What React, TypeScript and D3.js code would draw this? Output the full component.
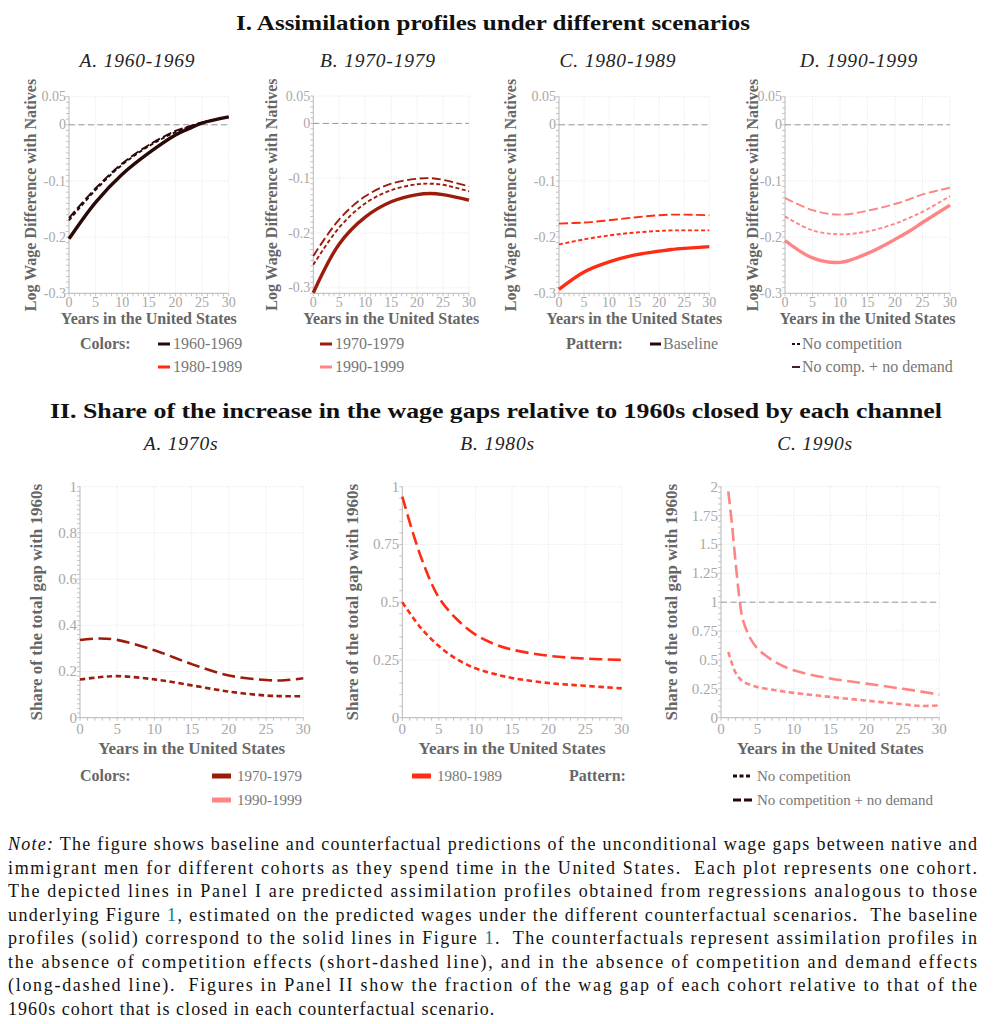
import { useEffect, useRef } from "react";
import * as d3 from "d3";

// cohort colours
const C60 = "#2a0808";
const C70 = "#9c1c0c";
const C80 = "#ff2b12";
const C90 = "#ff8585";

// ---- Panel I: assimilation profiles (log wage gap) ----
const yearsI = [0, 5, 10, 15, 20, 22.5, 25, 30];
const base60 = [-0.203, -0.138, -0.088, -0.05, -0.018, -0.007, 0.003, 0.014];
const noComp60 = [-0.17, -0.116, -0.071, -0.038, -0.013, -0.004, 0.004, 0.014];
const noDem60 = [-0.166, -0.113, -0.069, -0.036, -0.011, -0.003, 0.004, 0.014];

const base70 = [-0.309, -0.22, -0.171, -0.143, -0.13, -0.128, -0.13, -0.14];
const noComp70 = [-0.258, -0.19, -0.146, -0.122, -0.111, -0.11, -0.112, -0.124];
const noDem70 = [-0.242, -0.175, -0.133, -0.11, -0.101, -0.1, -0.103, -0.115];

const base80 = [-0.293, -0.262, -0.244, -0.232, -0.225, -0.222, -0.22, -0.217];
const noComp80 = [-0.213, -0.204, -0.197, -0.192, -0.189, -0.188, -0.188, -0.188];
const noDem80 = [-0.176, -0.174, -0.17, -0.165, -0.161, -0.16, -0.16, -0.161];

const base90 = [-0.206, -0.237, -0.245, -0.229, -0.204, -0.19, -0.174, -0.143];
const noComp90 = [-0.163, -0.188, -0.195, -0.19, -0.176, -0.166, -0.155, -0.127];
const noDem90 = [-0.13, -0.152, -0.16, -0.153, -0.141, -0.133, -0.124, -0.112];

const yTicksI = [0.05, 0, -0.1, -0.2, -0.3];
const xTicks = [0, 5, 10, 15, 20, 25, 30];

// ---- Panel II: share of the gap closed ----
const yearsA = [0, 2.5, 5, 10, 15, 20, 25, 27.5, 30];
const noDemA = [0.336, 0.343, 0.337, 0.292, 0.232, 0.183, 0.163, 0.162, 0.171];
const noCompA = [0.165, 0.175, 0.18, 0.166, 0.14, 0.113, 0.096, 0.093, 0.093];

const yearsB = [0, 2.5, 5, 7.5, 10, 12.5, 15, 20, 25, 30];
const noDemB = [0.957, 0.7, 0.52, 0.425, 0.36, 0.32, 0.295, 0.268, 0.256, 0.25];
const noCompB = [0.5, 0.39, 0.31, 0.252, 0.214, 0.19, 0.172, 0.15, 0.138, 0.127];

const yearsC = [1, 1.5, 2, 2.5, 3, 4, 5, 7.5, 10, 15, 20, 25, 27.5, 30];
const noDemC = [1.96, 1.68, 1.35, 1.05, 0.85, 0.69, 0.6, 0.48, 0.41, 0.34, 0.295, 0.25, 0.226, 0.2];
const noCompC = [0.57, 0.47, 0.39, 0.345, 0.315, 0.285, 0.265, 0.238, 0.215, 0.18, 0.148, 0.116, 0.102, 0.106];

const yTicksA = [0, 0.2, 0.4, 0.6, 0.8, 1];
const yTicksB = [0, 0.25, 0.5, 0.75, 1];
const yTicksC = [0, 0.25, 0.5, 0.75, 1, 1.25, 1.5, 1.75, 2];

const legendCohortsI = ["1960-1969", "1970-1979", "1980-1989", "1990-1999"];
const legendPatternsI = ["Baseline", "No competition", "No comp. + no demand"];
const legendCohortsII = ["1970-1979", "1980-1989", "1990-1999"];
const legendPatternsII = ["No competition", "No competition + no demand"];

const noteLines: { t: string; s?: "i" | "link" }[][] = [
  [{ t: "Note:", s: "i" }, { t: " The figure shows baseline and counterfactual predictions of the unconditional wage gaps between native and" }],
  [{ t: "immigrant men for different cohorts as they spend time in the United States.  Each plot represents one cohort." }],
  [{ t: "The depicted lines in Panel I are predicted assimilation profiles obtained from regressions analogous to those" }],
  [{ t: "underlying Figure " }, { t: "1", s: "link" }, { t: ", estimated on the predicted wages under the different counterfactual scenarios.  The baseline" }],
  [{ t: "profiles (solid) correspond to the solid lines in Figure " }, { t: "1", s: "link" }, { t: ".  The counterfactuals represent assimilation profiles in" }],
  [{ t: "the absence of competition effects (short-dashed line), and in the absence of competition and demand effects" }],
  [{ t: "(long-dashed line).  Figures in Panel II show the fraction of the wag gap of each cohort relative to that of the" }],
  [{ t: "1960s cohort that is closed in each counterfactual scenario." }],
];

const SERIF = "'Liberation Serif', 'DejaVu Serif', serif";

type Series = { xs: number[]; ys: number[]; color: string; kind: "solid" | "short" | "long" };
type PanelCfg = {
  x0: number; x1: number; yTop: number; yBot: number;
  yDomain: [number, number]; yTicks: number[]; yMinor: number;
  ref: number | null; yTitle: string; yTitleX: number;
  xTickY: number; xTitleY: number; tickSize: number; titleSize: number;
  widths: { solid: number; short: number; long: number };
  dashes: { short: string; long: string };
  series: Series[];
};

function drawPanel(svg: d3.Selection<SVGSVGElement, unknown, null, undefined>, p: PanelCfg) {
  const x = d3.scaleLinear().domain([0, 30]).range([p.x0, p.x1]);
  const y = d3.scaleLinear().domain(p.yDomain).range([p.yBot, p.yTop]);
  const g = svg.append("g");

  // dotted grid
  g.selectAll("line.gx").data(xTicks.filter((d) => d > 0)).enter().append("line")
    .attr("x1", (d) => x(d)).attr("x2", (d) => x(d)).attr("y1", p.yTop).attr("y2", p.yBot)
    .attr("stroke", "#e4e4e4").attr("stroke-dasharray", "1,1.5");
  g.selectAll("line.gy").data(p.yTicks).enter().append("line")
    .attr("x1", p.x0).attr("x2", p.x1).attr("y1", (d) => y(d)).attr("y2", (d) => y(d))
    .attr("stroke", "#e4e4e4").attr("stroke-dasharray", "1,1.5");

  // minor ticks
  const yMinor = d3.range(p.yDomain[0], p.yDomain[1] + 1e-9, p.yMinor);
  g.selectAll("line.my").data(yMinor).enter().append("line")
    .attr("x1", p.x0 - 3).attr("x2", p.x0).attr("y1", (d) => y(d)).attr("y2", (d) => y(d))
    .attr("stroke", "#c4c4c4");
  g.selectAll("line.mx").data(d3.range(0, 31)).enter().append("line")
    .attr("x1", (d) => x(d)).attr("x2", (d) => x(d)).attr("y1", p.yBot).attr("y2", p.yBot + 3)
    .attr("stroke", "#c4c4c4");

  // axes lines
  g.append("line").attr("x1", p.x0).attr("x2", p.x0).attr("y1", p.yTop).attr("y2", p.yBot).attr("stroke", "#b8b8b8");
  g.append("line").attr("x1", p.x0).attr("x2", p.x1).attr("y1", p.yBot).attr("y2", p.yBot).attr("stroke", "#b8b8b8");

  // tick labels
  g.selectAll("text.ty").data(p.yTicks).enter().append("text")
    .attr("x", p.x0 - 3).attr("y", (d) => y(d) + p.tickSize * 0.33)
    .attr("text-anchor", "end").attr("font-family", SERIF).attr("font-size", p.tickSize)
    .attr("fill", "#a8a8a8").text((d) => String(d));
  g.selectAll("text.tx").data(xTicks).enter().append("text")
    .attr("x", (d) => x(d)).attr("y", p.xTickY)
    .attr("text-anchor", "middle").attr("font-family", SERIF).attr("font-size", p.tickSize)
    .attr("fill", "#a8a8a8").text((d) => String(d));

  // reference line
  if (p.ref !== null) {
    g.append("line").attr("x1", p.x0).attr("x2", p.x1).attr("y1", y(p.ref)).attr("y2", y(p.ref))
      .attr("stroke", "#999").attr("stroke-dasharray", "6,3.5").attr("stroke-width", 1);
  }

  // series
  const line = d3.line<[number, number]>().x((d) => x(d[0])).y((d) => y(d[1])).curve(d3.curveCatmullRom.alpha(0.5));
  p.series.forEach((s) => {
    const pts = s.xs.map((v, i) => [v, s.ys[i]] as [number, number]);
    g.append("path").attr("d", line(pts) ?? "").attr("fill", "none").attr("stroke", s.color)
      .attr("stroke-width", p.widths[s.kind])
      .attr("stroke-dasharray", s.kind === "solid" ? null : p.dashes[s.kind]);
  });

  // axis titles
  g.append("text").attr("x", (p.x0 + p.x1) / 2).attr("y", p.xTitleY).attr("text-anchor", "middle")
    .attr("font-family", SERIF).attr("font-weight", "bold").attr("font-size", p.titleSize)
    .attr("fill", "#666").text("Years in the United States");
  g.append("text").attr("transform", `translate(${p.yTitleX},${(p.yTop + p.yBot) / 2}) rotate(-90)`)
    .attr("text-anchor", "middle").attr("font-family", SERIF).attr("font-weight", "bold")
    .attr("font-size", p.titleSize).attr("fill", "#666").text(p.yTitle);
}

const App = () => {
  const ref = useRef<SVGSVGElement | null>(null);

  useEffect(() => {
    if (!ref.current) return;
    const svg = d3.select(ref.current);
    svg.selectAll("*").remove();

    const heading = (txt: string, cx: number, yy: number, w: number) =>
      svg.append("text").attr("x", cx).attr("y", yy).attr("text-anchor", "middle")
        .attr("font-family", SERIF).attr("font-weight", "bold").attr("font-size", 21)
        .attr("fill", "#111").attr("textLength", w).attr("lengthAdjust", "spacingAndGlyphs").text(txt);
    const sub = (txt: string, cx: number, yy: number) =>
      svg.append("text").attr("x", cx).attr("y", yy).attr("text-anchor", "middle")
        .attr("font-family", SERIF).attr("font-style", "italic").attr("font-size", 19.5)
        .attr("letter-spacing", 0.8).attr("fill", "#222").text(txt);

    heading("I. Assimilation profiles under different scenarios", 493, 30, 514);
    heading("II. Share of the increase in the wage gaps relative to 1960s closed by each channel", 496, 418, 892);

    // Panel I
    const cohortsI = [
      { t: "A. 1960-1969", cx: 137.5, x0: 69, x1: 228.7, yTop: 96.7, yMin: -0.3, yt: 36, c: C60, b: base60, n: noComp60, d: noDem60 },
      { t: "B. 1970-1979", cx: 378, x0: 313.3, x1: 469, yTop: 96, yMin: -0.31, yt: 277, c: C70, b: base70, n: noComp70, d: noDem70 },
      { t: "C. 1980-1989", cx: 618, x0: 559, x1: 709.3, yTop: 96.7, yMin: -0.3, yt: 516, c: C80, b: base80, n: noComp80, d: noDem80 },
      { t: "D. 1990-1999", cx: 859, x0: 785, x1: 950, yTop: 96.7, yMin: -0.3, yt: 758, c: C90, b: base90, n: noComp90, d: noDem90 },
    ];
    cohortsI.forEach((c) => {
      sub(c.t, c.cx, 67);
      drawPanel(svg, {
        x0: c.x0, x1: c.x1, yTop: c.yTop, yBot: 293.3, yDomain: [c.yMin, 0.05], yTicks: yTicksI, yMinor: 0.01,
        ref: 0, yTitle: "Log Wage Difference with Natives", yTitleX: c.yt,
        xTickY: 306.5, xTitleY: 324, tickSize: 14, titleSize: 16,
        widths: { solid: 3.4, short: 1.9, long: 1.9 }, dashes: { short: "4,2.5", long: "9,3.5" },
        series: [
          { xs: yearsI, ys: c.d, color: c.c, kind: "long" },
          { xs: yearsI, ys: c.n, color: c.c, kind: "short" },
          { xs: yearsI, ys: c.b, color: c.c, kind: "solid" },
        ],
      });
    });

    // Panel II
    const panelsII = [
      { t: "A. 1970s", cx: 181, x0: 80, x1: 303.3, max: 1, ticks: yTicksA, minor: 0.02, ref: null, yt: 42, c: C70, xs: yearsA, n: noCompA, d: noDemA },
      { t: "B. 1980s", cx: 497.5, x0: 402.3, x1: 621.7, max: 1, ticks: yTicksB, minor: 0.05, ref: null, yt: 358, c: C80, xs: yearsB, n: noCompB, d: noDemB },
      { t: "C. 1990s", cx: 815, x0: 721, x1: 939.3, max: 2, ticks: yTicksC, minor: 0.05, ref: 1, yt: 677, c: C90, xs: yearsC, n: noCompC, d: noDemC },
    ];
    panelsII.forEach((c) => {
      sub(c.t, c.cx, 450);
      drawPanel(svg, {
        x0: c.x0, x1: c.x1, yTop: 486.7, yBot: 717.7, yDomain: [0, c.max], yTicks: c.ticks, yMinor: c.minor,
        ref: c.ref, yTitle: "Share of the total gap with 1960s", yTitleX: c.yt,
        xTickY: 733.5, xTitleY: 754, tickSize: 15, titleSize: 17,
        widths: { solid: 3, short: 2.6, long: 2.6 }, dashes: { short: "5.5,3.5", long: "13,5.5" },
        series: [
          { xs: c.xs, ys: c.d, color: c.c, kind: "long" },
          { xs: c.xs, ys: c.n, color: c.c, kind: "short" },
        ],
      });
    });

    // Legend I
    const lg = svg.append("g").attr("font-family", SERIF).attr("font-size", 16).attr("fill", "#777");
    const bold = (txt: string, xx: number, yy: number, size: number) =>
      lg.append("text").attr("x", xx).attr("y", yy).attr("font-weight", "bold").attr("font-size", size).attr("fill", "#666").text(txt);
    const item = (txt: string, xx: number, yy: number, size: number) =>
      lg.append("text").attr("x", xx).attr("y", yy).attr("font-size", size).text(txt);
    const swatch = (xa: number, xb: number, yy: number, col: string, w: number, dash: string | null) =>
      lg.append("line").attr("x1", xa).attr("x2", xb).attr("y1", yy).attr("y2", yy)
        .attr("stroke", col).attr("stroke-width", w).attr("stroke-dasharray", dash);

    bold("Colors:", 80, 349, 16);
    const colI = [C60, C70, C80, C90];
    legendCohortsI.forEach((t, i) => {
      const xx = i % 2 === 0 ? 158 : 320;
      const yy = i < 2 ? 349 : 372;
      swatch(xx, xx + 12, yy - 5, colI[i], 3, null);
      item(t, xx + 15, yy, 16);
    });
    bold("Pattern:", 566, 349, 16);
    swatch(650, 661, 344, C60, 3, null);
    item(legendPatternsI[0], 663, 349, 16);
    swatch(792, 800, 344, C60, 1.8, "3,2");
    item(legendPatternsI[1], 802, 349, 16);
    swatch(792, 800, 367, C60, 1.8, null);
    item(legendPatternsI[2], 802, 372, 16);

    // Legend II
    bold("Colors:", 80, 781, 16);
    const colII = [C70, C80, C90];
    const posII = [[212, 781], [412, 781], [212, 805]];
    legendCohortsII.forEach((t, i) => {
      const [xx, yy] = posII[i];
      swatch(xx, xx + 19, yy - 5, colII[i], 5, null);
      item(t, xx + 25, yy, 15);
    });
    bold("Pattern:", 569, 781, 16);
    swatch(733, 752, 776, C60, 3, "4,2.5");
    item(legendPatternsII[0], 757, 781, 15);
    swatch(733, 752, 800, C60, 3, "8,3");
    item(legendPatternsII[1], 757, 805, 15);

    // Note
    noteLines.forEach((segs, i) => {
      const t = svg.append("text").attr("x", 8).attr("y", 850 + i * 23.5)
        .attr("font-family", SERIF).attr("font-size", 18).attr("fill", "#111")
        .attr("letter-spacing", 1.05).style("white-space", "pre");
      if (i < noteLines.length - 1) t.attr("textLength", 970).attr("lengthAdjust", "spacing");
      segs.forEach((s) => {
        const ts = t.append("tspan").text(s.t);
        if (s.s === "i") ts.attr("font-style", "italic");
        if (s.s === "link") ts.attr("fill", "#127a86");
      });
    });
  }, []);

  return (
    <svg ref={ref} width={996} height={1024}
      style={{ position: "absolute", left: 0, top: 0, background: "#fff" }} />
  );
};

export default App;
